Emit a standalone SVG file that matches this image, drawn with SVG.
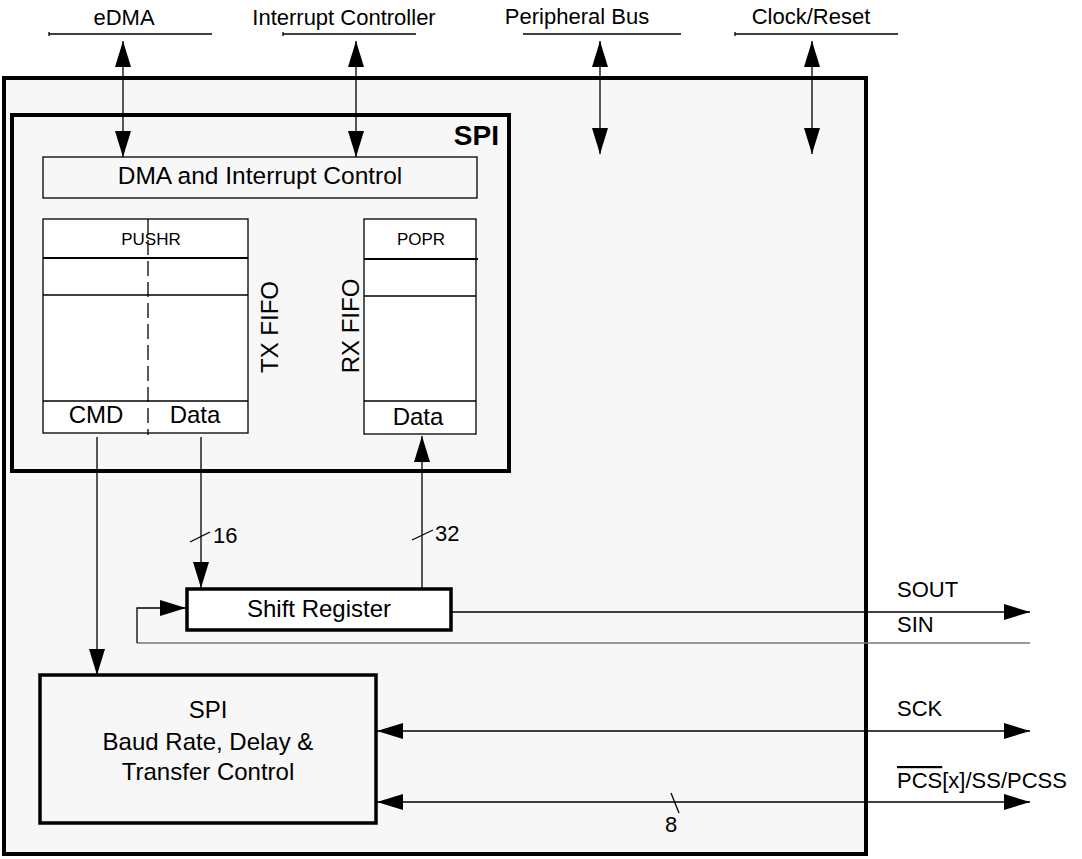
<svg xmlns="http://www.w3.org/2000/svg" width="1082" height="859" viewBox="0 0 1082 859">
<style>
text{font-family:"Liberation Sans",Arial,Helvetica,sans-serif;fill:#000}
.lbl{font-size:22px}
.big{font-size:24px}
.sm{font-size:17px}
.ctl{font-size:24px}
.thin{fill:none;stroke:#000;stroke-width:1.3}
.box{fill:#fff;stroke:#000;stroke-width:1.3}
.thick{stroke:#000;stroke-width:4}
.conn{fill:none;stroke:#000;stroke-width:1.3}
</style>
<defs>
<marker id="ah" viewBox="0 0 26 16" refX="26" refY="8" markerWidth="26" markerHeight="16" markerUnits="userSpaceOnUse" orient="auto-start-reverse">
<path d="M0,0 L26,8 L0,16 Z" fill="#000"/>
</marker>
</defs>
<rect width="1082" height="859" fill="#fff"/>

<g id="external-labels">
<text class="lbl" x="124" y="25" text-anchor="middle">eDMA</text>
<line class="thin" x1="49" y1="34" x2="212" y2="34"/>
<line class="thin" x1="49" y1="32" x2="49" y2="36"/>
<text class="lbl" x="344" y="25" text-anchor="middle">Interrupt Controller</text>
<line class="thin" x1="283" y1="34" x2="416" y2="34"/>
<line class="thin" x1="283" y1="32" x2="283" y2="36"/>
<text class="lbl" x="577" y="24" text-anchor="middle">Peripheral Bus</text>
<line class="thin" x1="523" y1="34" x2="681" y2="34"/>
<text class="lbl" x="811" y="24" text-anchor="middle">Clock/Reset</text>
<line class="thin" x1="735" y1="34" x2="898" y2="34"/>
<line class="thin" x1="735" y1="32" x2="735" y2="36"/>
</g>

<g id="module">
<rect x="4" y="78" width="862" height="776" fill="#f7f7f7" class="thick"/>
</g>

<g id="spi">
<rect x="12" y="115" width="497" height="356" fill="#f7f7f7" class="thick"/>
<text x="499" y="145" text-anchor="end" style="font-size:28px;font-weight:bold">SPI</text>
</g>

<g id="dma-interrupt-control">
<rect x="43" y="157" width="434" height="41" fill="#f7f7f7" stroke="#000" stroke-width="1.3"/>
<text x="260" y="184" text-anchor="middle" style="font-size:24.5px">DMA and Interrupt Control</text>
</g>

<g id="tx-fifo">
<rect class="box" x="43" y="219" width="205" height="214"/>
<line x1="43" y1="258" x2="248" y2="258" stroke="#000" stroke-width="2"/>
<line class="thin" x1="43" y1="295" x2="248" y2="295"/>
<line class="thin" x1="43" y1="401" x2="248" y2="401"/>
<line x1="148" y1="219" x2="148" y2="435" stroke="#000" stroke-width="1.3" stroke-dasharray="15 6"/>
<text class="sm" x="151" y="245" text-anchor="middle">PUSHR</text>
<text class="big" x="96" y="423" text-anchor="middle">CMD</text>
<text class="big" x="195" y="423" text-anchor="middle">Data</text>
<text class="big" transform="translate(278,327) rotate(-90)" text-anchor="middle">TX FIFO</text>
</g>

<g id="rx-fifo">
<rect class="box" x="364" y="219" width="112" height="215"/>
<line x1="364" y1="259" x2="478" y2="259" stroke="#000" stroke-width="2"/>
<line class="thin" x1="364" y1="296" x2="476" y2="296"/>
<line class="thin" x1="364" y1="401" x2="476" y2="401"/>
<text class="sm" x="421" y="245" text-anchor="middle">POPR</text>
<text class="big" x="418" y="425" text-anchor="middle">Data</text>
<text class="big" transform="translate(359,326) rotate(-90)" text-anchor="middle">RX FIFO</text>
</g>

<g id="shift-register">
<rect x="187" y="589" width="264" height="41" fill="#fff" stroke="#000" stroke-width="3.5"/>
<text class="big" x="319" y="617" text-anchor="middle">Shift Register</text>
</g>

<g id="baud-rate-control">
<rect x="40" y="675" width="336" height="148" fill="#f7f7f7" stroke="#000" stroke-width="3.5"/>
<text class="ctl" x="208" y="718" text-anchor="middle">SPI</text>
<text class="ctl" x="208" y="750" text-anchor="middle">Baud Rate, Delay &amp;</text>
<text class="ctl" x="208" y="780" text-anchor="middle">Transfer Control</text>
</g>

<g id="connectors">
<line class="conn" x1="123" y1="41" x2="123" y2="157" marker-start="url(#ah)" marker-end="url(#ah)"/>
<line class="conn" x1="356" y1="41" x2="356" y2="157" marker-start="url(#ah)" marker-end="url(#ah)"/>
<line class="conn" x1="600" y1="41" x2="600" y2="154" marker-start="url(#ah)" marker-end="url(#ah)"/>
<line class="conn" x1="812" y1="41" x2="812" y2="154" marker-start="url(#ah)" marker-end="url(#ah)"/>
<line class="conn" x1="97" y1="437" x2="97" y2="675" marker-end="url(#ah)"/>
<line class="conn" x1="201" y1="437" x2="201" y2="588" marker-end="url(#ah)"/>
<line class="conn" x1="190" y1="542" x2="210" y2="532"/>
<text class="lbl" x="213" y="543">16</text>
<line class="conn" x1="422" y1="588" x2="422" y2="436" marker-end="url(#ah)"/>
<line class="conn" x1="412" y1="540" x2="433" y2="530"/>
<text class="lbl" x="435" y="541">32</text>
<line x1="137" y1="643" x2="1030" y2="643" stroke="#777" stroke-width="1.5"/>
<path class="conn" d="M137,643 V608 H186" marker-end="url(#ah)"/>
<line class="conn" x1="451" y1="612" x2="1030" y2="612" marker-end="url(#ah)"/>
<text class="lbl" x="897" y="597">SOUT</text>
<text class="lbl" x="897" y="632">SIN</text>
<line class="conn" x1="377" y1="731" x2="1030" y2="731" marker-start="url(#ah)" marker-end="url(#ah)"/>
<text class="lbl" x="897" y="716">SCK</text>
<line class="conn" x1="377" y1="802" x2="1030" y2="802" marker-start="url(#ah)" marker-end="url(#ah)"/>
<line class="conn" x1="671" y1="793" x2="679" y2="813"/>
<text class="lbl" x="665" y="832">8</text>
<text class="lbl" x="897" y="788"><tspan style="text-decoration:overline">PCS</tspan>[x]/SS/PCSS</text>
</g>
</svg>
